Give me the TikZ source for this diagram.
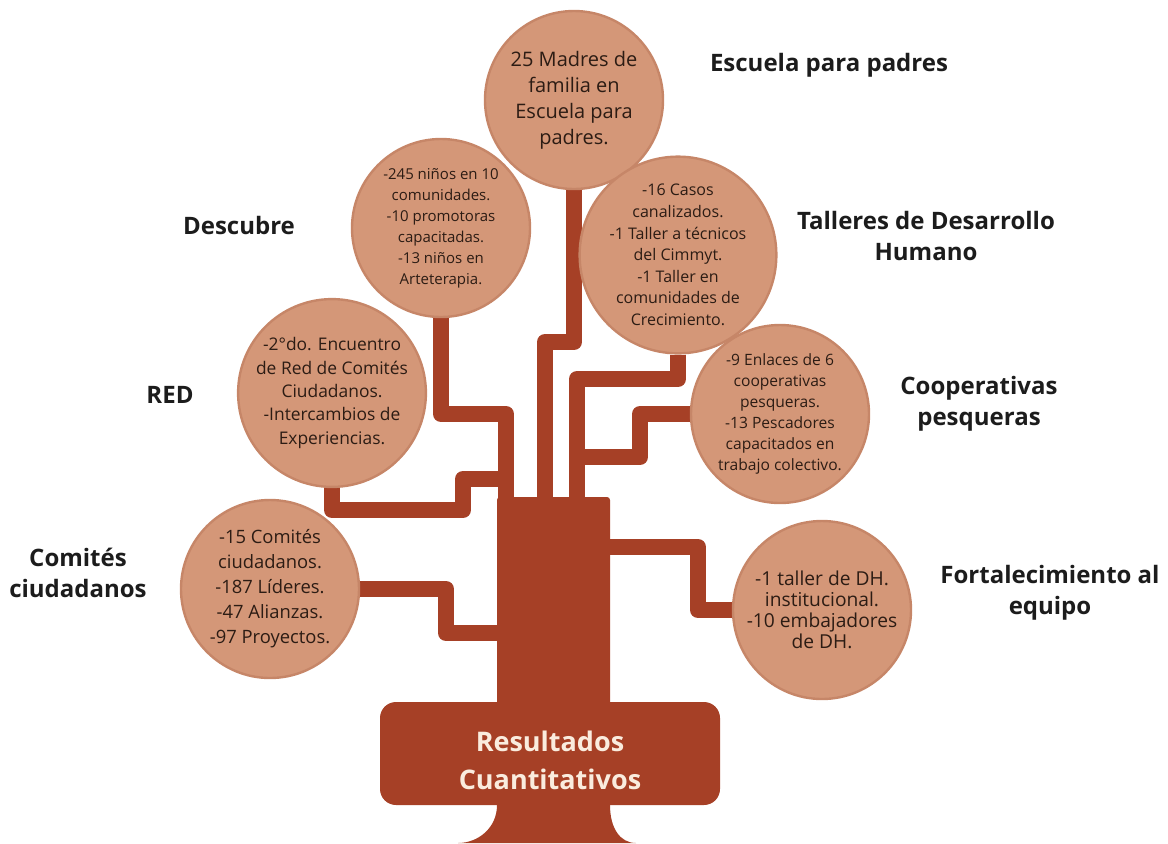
\documentclass[tikz,border=0pt]{standalone}
\usepackage{fontspec}
\setmainfont{Open Sans}
\usepackage{tikz}
\definecolor{barkRust}{RGB}{166,64,38}
\definecolor{bubbleClay}{RGB}{212,151,120}
\definecolor{bubbleRim}{RGB}{198,134,104}
\definecolor{bubbleInk}{RGB}{44,28,20}
\definecolor{labelInk}{RGB}{28,28,28}
\definecolor{baseCream}{RGB}{250,236,222}
\usetikzlibrary{backgrounds}

\begin{document}
\begin{tikzpicture}[
    x=0.5pt, y=-0.5pt,
    bubble/.style={circle, fill=bubbleClay, draw=bubbleRim, line width=1.2pt,
        minimum size=89pt, inner sep=0pt, align=center, text=bubbleInk},
    heading/.style={align=center, text=labelInk,
        font=\fontsize{12}{15.5}\selectfont\bfseries},
    branch/.style={draw=barkRust, line width=8pt, line join=round}
]
    \useasboundingbox (0,0) rectangle (1168,843);

    % trunk and base
    \node[fill=barkRust, rounded corners=1.5pt, minimum width=56.5pt,
        minimum height=106.5pt, inner sep=0pt] (trunk) at (553.5,603.5) {};
    \node[fill=barkRust, rounded corners=8pt, minimum width=170pt,
        minimum height=51.5pt] (base) at (550,753.5) {};
    \node[
        align=center,
        text=baseCream,
        font=\fontsize{13.5}{19}\selectfont\bfseries
    ] (baseText) at ([yshift=-3.5pt]base.center) {Resultados\\Cuantitativos};
    \fill[barkRust] (497,800) -- (610,800) -- (610,805)
        .. controls (610,828) and (620,843) .. (636,843)
        -- (458,843) .. controls (478,843) and (497,828) .. (497,805) -- cycle;

    % results
    \node[bubble, font=\fontsize{10}{13}\selectfont] (escuela) at (574,100)
        {25 Madres de\\familia en\\Escuela para\\padres.};
    \node[bubble, font=\fontsize{7.5}{10.5}\selectfont] (descubre) at (441,228)
        {-245 niños en 10\\comunidades.\\-10 promotoras\\capacitadas.\\-13 niños en\\Arteterapia.};
    \node[bubble, font=\fontsize{8}{10.8}\selectfont] (talleres) at (678,255)
        {-16 Casos\\canalizados.\\-1 Taller a técnicos\\del Cimmyt.\\-1 Taller en\\comunidades de\\Crecimiento.};
    \node[bubble, font=\fontsize{8.7}{11.7}\selectfont] (red) at (332,393)
        {-2°do. Encuentro\\de Red de Comités\\Ciudadanos.\\-Intercambios de\\Experiencias.};
    \node[bubble, font=\fontsize{7.8}{10.5}\selectfont] (coop) at (780,414)
        {-9 Enlaces de 6\\cooperativas\\pesqueras.\\-13 Pescadores\\capacitados en\\trabajo colectivo.};
    \node[bubble, font=\fontsize{9.2}{12.5}\selectfont] (comites) at (270,589)
        {-15 Comités\\ciudadanos.\\-187 Líderes.\\-47 Alianzas.\\-97 Proyectos.};
    \node[bubble, font=\fontsize{9.6}{10.6}\selectfont] (fort) at (822,610)
        {-1 taller de DH.\\institucional.\\-10 embajadores\\de DH.};

    % headings
    \node[heading] (lblEscuela) at (829,65) {Escuela para padres};
    \node[heading] (lblDescubre) at (239,225) {Descubre};
    \node[heading] (lblTalleres) at (926,236) {Talleres de Desarrollo\\Humano};
    \node[heading] (lblRed) at (170,395) {RED};
    \node[heading] (lblCoop) at (979,404) {Cooperativas\\pesqueras};
    \node[heading] (lblComites) at (78,573) {Comités\\ciudadanos};
    \node[heading] (lblFort) at (1050,593) {Fortalecimiento al\\equipo};

    % branches
    \begin{scope}[on background layer]
        \draw[branch] (escuela.south) |- (545,342) -- (545,0 |- trunk.center);
        \draw[branch] (descubre.south) |- (506,414) -- (506,0 |- trunk.center);
        \draw[branch] (red.south) |- (463,510) |- (506,479);
        \draw[branch] (talleres.south) |- (577,379) -- (577,0 |- trunk.center);
        \draw[branch] (coop.west) -| (640,457) -- (577,457);
        \draw[branch] (comites.east) -| (446,633) -- (trunk.center |- 0,633);
        \draw[branch] (trunk.center |- 0,547) -| (698,610) -- (fort.west);
    \end{scope}
\end{tikzpicture}
\end{document}
